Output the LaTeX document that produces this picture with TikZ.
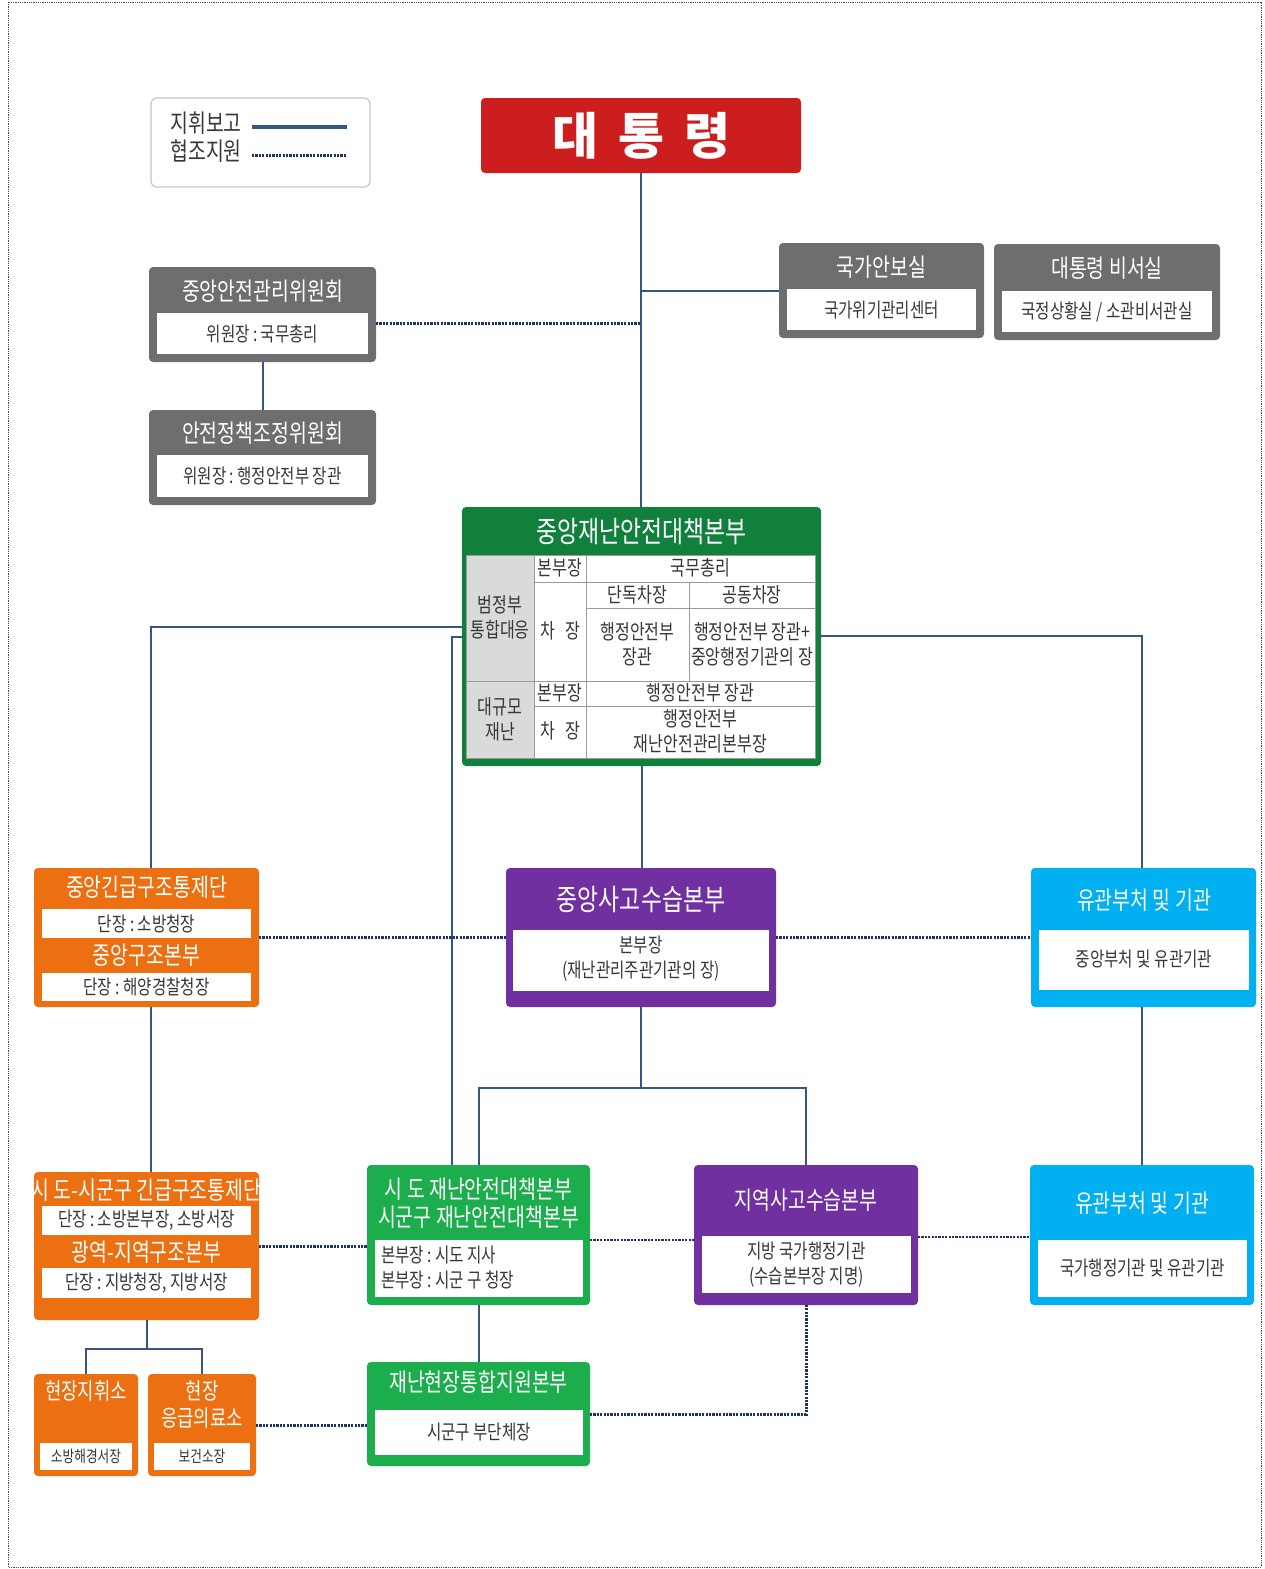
\documentclass[tikz,border=0pt]{standalone}
\usepackage{fontspec}
\newfontfamily\kr[FakeStretch=0.78]{Noto Sans CJK KR}
\newfontfamily\krw{Noto Sans CJK KR}
\definecolor{redc}{RGB}{204,30,30}
\definecolor{grayc}{RGB}{110,110,110}
\definecolor{dgreen}{RGB}{16,128,60}
\definecolor{lgreen}{RGB}{28,174,76}
\definecolor{orangec}{RGB}{236,112,18}
\definecolor{purplec}{RGB}{112,48,160}
\definecolor{cyanc}{RGB}{0,176,240}
\definecolor{linec}{RGB}{55,85,130}
\definecolor{dotc}{RGB}{30,50,100}
\definecolor{tgray}{RGB}{218,218,218}
\definecolor{txtc}{RGB}{55,55,55}
\begin{document}
\begin{tikzpicture}[x=1pt,y=-1pt,
  every node/.style={inner sep=0pt, outer sep=0pt},
  boxfill/.style={fill=#1, rounded corners=4pt, draw=none},
  inbox/.style={fill=white, draw=none},
  ttl/.style={text=white, font=\kr\fontsize{24.9}{28}\selectfont, align=center},
  bigttl/.style={text=white, font=\kr\fontsize{29.3}{32}\selectfont, align=center},
  smallttl/.style={text=white, font=\kr\fontsize{22.8}{27}\selectfont, align=center},
  sub/.style={text=txtc, font=\kr\fontsize{20}{25}\selectfont, align=center},
  tiny/.style={text=txtc, font=\kr\fontsize{16.3}{18}\selectfont, align=center},
  tbl/.style={text=txtc, font=\kr\fontsize{20.6}{25}\selectfont, align=center},
  legtxt/.style={text=txtc, font=\kr\fontsize{24.9}{28}\selectfont},
  rep/.style={draw=linec, line width=2pt},
  coop/.style={draw=dotc, line width=3pt, dash pattern=on 2.2pt off 1.2pt},
  gridl/.style={draw=gray!80, line width=0.8pt}]
\useasboundingbox (0,0) rectangle (1264,1569);
\draw[densely dotted, gray!60!black, line width=0.8pt] (8,2) rectangle (1261,1567);

% legend
\node[draw=gray!45, line width=1.2pt, rounded corners=6pt, minimum width=219pt, minimum height=89pt] (legend) at (260.5,142.5) {};
\node[legtxt] (leg1) at (206,123) {지휘보고};
\node[legtxt] (leg2) at (206,151) {협조지원};
\coordinate (la) at (252,127);
\coordinate (lb) at (347,127);
\coordinate (lc) at (252,155);
\coordinate (ld) at (347,155);
\draw[rep, line width=3.5pt] (la) -- (lb);
\draw[coop] (lc) -- (ld);

% president
\node[boxfill=redc, minimum width=320pt, minimum height=75pt] (pres) at (641,135.5) {};
\node[text=white, font=\krw\bfseries\fontsize{50}{54}\selectfont] (prest) at (641,135.5) {대\hspace{20pt}통\hspace{20pt}령};

% national security office
\node[boxfill=grayc, minimum width=205pt, minimum height=95pt] (nsa) at (881.5,290.5) {};
\node[inbox, minimum width=189pt, minimum height=41pt] (nsain) at (881.5,309.5) {};
\node[ttl] (nsat) at (881.5,267) {국가안보실};
\node[sub] (nsas) at (881.5,310) {국가위기관리센터};

% secretariat
\node[boxfill=grayc, minimum width=226pt, minimum height=96pt] (sec) at (1107,292) {};
\node[inbox, minimum width=210pt, minimum height=41pt] (secin) at (1107,311.5) {};
\node[ttl] (sect) at (1107,268) {대통령 비서실};
\node[sub] (secs) at (1107,311.5) {국정상황실 / 소관비서관실};

% committees
\node[boxfill=grayc, minimum width=227pt, minimum height=95pt] (cc1) at (262.5,314.5) {};
\node[inbox, minimum width=211pt, minimum height=41pt] (cc1in) at (262.5,333.5) {};
\node[ttl] (cc1t) at (262.5,291) {중앙안전관리위원회};
\node[sub] (cc1s) at (262.5,333.5) {위원장 :\,국무총리};

\node[boxfill=grayc, minimum width=227pt, minimum height=95pt] (cc2) at (262.5,457.5) {};
\node[inbox, minimum width=211pt, minimum height=42pt] (cc2in) at (262.5,476) {};
\node[ttl] (cc2t) at (262.5,433) {안전정책조정위원회};
\node[sub] (cc2s) at (262.5,476) {위원장 :\,행정안전부 장관};

% central disaster HQ
\node[boxfill=dgreen, minimum width=359pt, minimum height=259pt] (jc) at (641.5,636.5) {};
\node[bigttl] (jct) at (641.5,532) {중앙재난안전대책본부};
\fill[white] (466,555) rectangle (815,758);
\fill[tgray] (466,555) rectangle (534,758);
\draw[gridl] (466,555) rectangle (815,758);
\draw[gridl] (534,555) -- (534,758);
\draw[gridl] (586,555) -- (586,758);
\draw[gridl] (689,582) -- (689,681);
\draw[gridl] (466,681) -- (815,681);
\draw[gridl] (534,582) -- (815,582);
\draw[gridl] (586,608) -- (815,608);
\draw[gridl] (534,706) -- (815,706);
\node[tbl] (t1) at (500,617) {범정부\\통합대응};
\node[tbl] (t2) at (500,719) {대규모\\재난};
\node[tbl] (t3) at (560,568) {본부장};
\node[tbl] (t4) at (560,631) {차\hspace{10pt}장};
\node[tbl] (t5) at (700.5,568) {국무총리};
\node[tbl] (t6) at (637.5,595) {단독차장};
\node[tbl] (t7) at (752,595) {공동차장};
\node[tbl] (t8) at (637.5,644) {행정안전부\\장관};
\node[tbl] (t9) at (752,644) {행정안전부 장관+\\중앙행정기관의 장};
\node[tbl] (t10) at (560,693) {본부장};
\node[tbl] (t11) at (700.5,693) {행정안전부 장관};
\node[tbl] (t12) at (560,731) {차\hspace{10pt}장};
\node[tbl] (t13) at (700.5,731) {행정안전부\\재난안전관리본부장};

% central emergency rescue
\node[boxfill=orangec, minimum width=225pt, minimum height=139pt] (emg1) at (146.5,937.5) {};
\node[inbox, minimum width=209pt, minimum height=29pt] (emg1a) at (146.5,923.5) {};
\node[inbox, minimum width=209pt, minimum height=28pt] (emg1b) at (146.5,987) {};
\node[ttl] (emg1t) at (146.5,887) {중앙긴급구조통제단};
\node[sub] (emg1s) at (146.5,923.5) {단장 :\,소방청장};
\node[ttl] (emg1u) at (146.5,955) {중앙구조본부};
\node[sub] (emg1v) at (146.5,987) {단장 :\,해양경찰청장};

% central accident HQ
\node[boxfill=purplec, minimum width=270pt, minimum height=139pt] (ca) at (641,937.5) {};
\node[inbox, minimum width=256pt, minimum height=61pt] (cain) at (641,960.5) {};
\node[bigttl] (cat) at (641,900) {중앙사고수습본부};
\node[sub] (cas) at (641,959) {본부장\\(재난관리주관기관의 장)};

% related agencies top
\node[boxfill=cyanc, minimum width=225pt, minimum height=139pt] (rel1) at (1143.5,937.5) {};
\node[inbox, minimum width=210pt, minimum height=60pt] (rel1in) at (1144,960) {};
\node[ttl] (rel1t) at (1144,900) {유관부처 및 기관};
\node[sub] (rel1s) at (1144,959) {중앙부처 및 유관기관};

% regional emergency rescue
\node[boxfill=orangec, minimum width=225pt, minimum height=148pt] (emg2) at (146.5,1246) {};
\node[inbox, minimum width=209pt, minimum height=29pt] (emg2a) at (146.5,1220.5) {};
\node[inbox, minimum width=209pt, minimum height=30pt] (emg2b) at (146.5,1283) {};
\node[ttl] (emg2t) at (146.5,1190) {시 도-시군구 긴급구조통제단};
\node[sub] (emg2s) at (146.5,1220.5) {단장 :\,소방본부장, 소방서장};
\node[ttl] (emg2u) at (146.5,1252) {광역-지역구조본부};
\node[sub] (emg2v) at (146.5,1283) {단장 :\,지방청장, 지방서장};

% local disaster HQ
\node[boxfill=lgreen, minimum width=223pt, minimum height=140pt] (sido) at (478.5,1235) {};
\node[inbox, minimum width=208pt, minimum height=57pt] (sidoin) at (479,1268.5) {};
\node[ttl] (sidot) at (478.5,1203) {시 도 재난안전대책본부\\시군구 재난안전대책본부};
\node[sub, align=left, anchor=west] (sidos) at (381,1268) {본부장 :\,시도 지사\\본부장 :\,시군 구 청장};

% regional accident HQ
\node[boxfill=purplec, minimum width=224pt, minimum height=140pt] (reg) at (806,1235) {};
\node[inbox, minimum width=209pt, minimum height=57pt] (regin) at (806.5,1264.5) {};
\node[ttl] (regt) at (806,1200) {지역사고수습본부};
\node[sub] (regs) at (806.5,1264.5) {지방 국가행정기관\\(수습본부장 지명)};

% related agencies bottom
\node[boxfill=cyanc, minimum width=224pt, minimum height=140pt] (rel2) at (1142,1235) {};
\node[inbox, minimum width=209pt, minimum height=57pt] (rel2in) at (1142.5,1268.5) {};
\node[ttl] (rel2t) at (1142,1203) {유관부처 및 기관};
\node[sub] (rel2s) at (1142.5,1268) {국가행정기관 및 유관기관};

% site support HQ
\node[boxfill=lgreen, minimum width=223pt, minimum height=104pt] (site) at (478.5,1414) {};
\node[inbox, minimum width=208pt, minimum height=45pt] (sitein) at (479,1432.5) {};
\node[ttl] (sitet) at (478.5,1382) {재난현장통합지원본부};
\node[sub] (sites) at (479,1432.5) {시군구 부단체장};

% field command / medical
\node[boxfill=orangec, minimum width=104pt, minimum height=102pt] (cmd) at (86,1425) {};
\node[inbox, minimum width=92pt, minimum height=27pt] (cmdin) at (86,1456.5) {};
\node[smallttl] (cmdt) at (86,1391) {현장지휘소};
\node[tiny] (cmds) at (86,1456.5) {소방해경서장};
\node[boxfill=orangec, minimum width=108pt, minimum height=102pt] (med) at (202,1425) {};
\node[inbox, minimum width=96pt, minimum height=27pt] (medin) at (202,1456.5) {};
\node[smallttl] (medt) at (202,1404.5) {현장\\응급의료소};
\node[tiny] (meds) at (202,1456.5) {보건소장};

% solid connectors (command/report)
\draw[rep] (pres.south) -- (pres.south |- jc.north);
\draw[rep] (nsa.west) -- (nsa.west -| pres.south);
\draw[rep] (cc1.south) -- (cc2.north);
\coordinate (jcL1) at (462,627);
\coordinate (jcL2) at (462,637);
\coordinate (jcR) at (821,636);
\coordinate (emgTop) at ([xshift=4.5pt]emg1.north);
\coordinate (emgBot) at ([xshift=4.5pt]emg1.south);
\coordinate (emg2Top) at ([xshift=4.5pt]emg2.north);
\coordinate (sidoL) at ([xshift=-26.5pt]sido.north);
\coordinate (rel1Top) at ([xshift=-1.5pt]rel1.north);
\coordinate (rel1Bot) at ([xshift=-1.5pt]rel1.south);
\draw[rep] (jcL1) -| (emgTop);
\draw[rep] (emgBot) -- (emg2Top);
\draw[rep] (jcL2) -- (jcL2 -| sidoL) -- (sidoL);
\draw[rep] (jcR) -| (rel1Top);
\draw[rep] (rel1Bot) -- (rel2.north);
\draw[rep] (jc.south) -- (jc.south |- ca.north);
\coordinate (hub) at (641,1088);
\draw[rep] (ca.south) -- (hub);
\draw[rep] (sido.north) |- (hub);
\draw[rep] (reg.north) |- (hub);
\draw[rep] (sido.south) -- (site.north);
\coordinate (bj) at (146.5,1349);
\draw[rep] (emg2.south) -- (bj);
\draw[rep] (cmd.north) |- (bj);
\draw[rep] (med.north) |- (bj);

% dotted connectors (cooperation/support)
\coordinate (cc1d) at ([yshift=-8.5pt]cc1.east);
\draw[coop] (cc1d) -- (cc1d -| pres.south);
\draw[coop] (emg1.east) -- (ca.west);
\draw[coop] (ca.east) -- (rel1.west);
\draw[coop] (emg2.east) -- (emg2.east -| sido.west);
\coordinate (sr) at ([yshift=-5pt]sido.east);
\draw[coop, line width=2.2pt] (sr) -- (sr -| reg.west);
\coordinate (rr) at ([yshift=-2pt]reg.east);
\draw[coop, line width=2.2pt] (rr) -- (rr -| rel2.west);
\draw[coop] (med.east) -- (med.east -| site.west);
\draw[coop] (site.east) -| (reg.south);
\end{tikzpicture}
\end{document}
